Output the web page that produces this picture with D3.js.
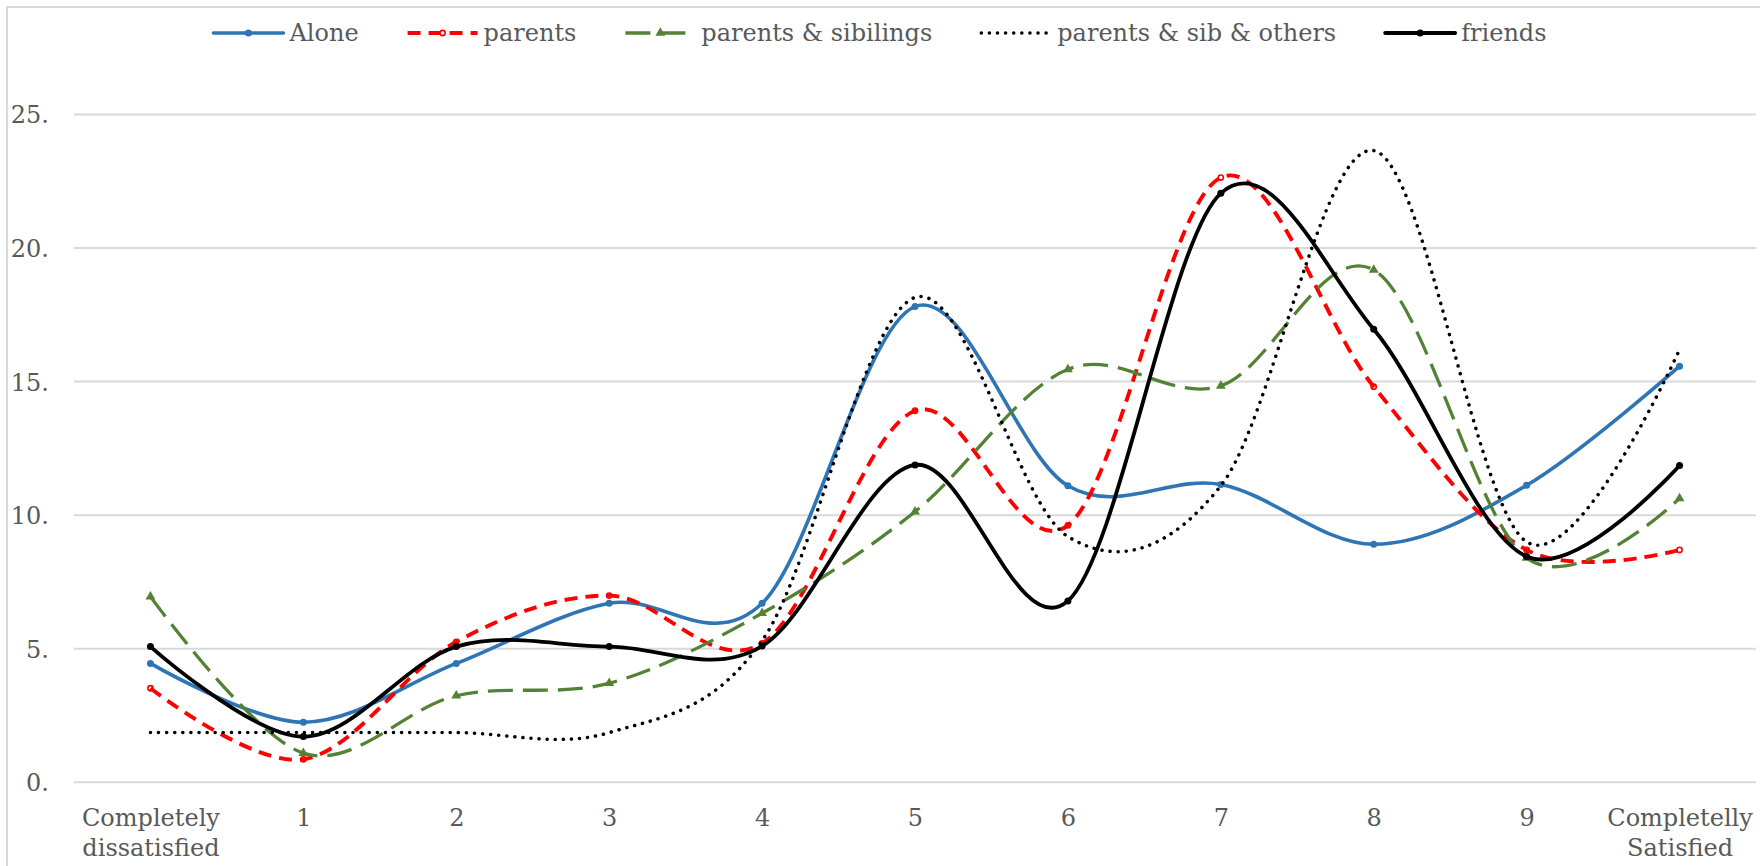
<!DOCTYPE html>
<html>
<head>
<meta charset="utf-8">
<script src="https://cdn.jsdelivr.net/npm/d3@7"></script>
<style>
  html, body { margin: 0; padding: 0; background: #fff; }
  svg { display: block; }
</style>
</head>
<body>
<svg id="chart" width="1760" height="866"></svg>
<script>
// ---- data ----
const categories = ["Completely dissatisfied", "1", "2", "3", "4", "5", "6", "7", "8", "9", "Completelly Satisfied"];
const categoryLines = [["Completely", "dissatisfied"], ["1"], ["2"], ["3"], ["4"], ["5"], ["6"], ["7"], ["8"], ["9"], ["Completelly", "Satisfied"]];
const alone         = [4.45, 2.25, 4.45, 6.70, 6.70, 17.81, 11.10, 11.15, 8.91, 11.12, 15.58];
const parents       = [3.52, 0.86, 5.26, 6.99, 5.20, 13.91, 9.62, 22.64, 14.81, 8.70, 8.70];
const parentsSib    = [6.95, 1.09, 3.24, 3.71, 6.33, 10.13, 15.46, 14.84, 19.18, 8.40, 10.63];
const parentsSibOth = [1.86, 1.86, 1.86, 1.86, 5.30, 18.15, 9.20, 11.10, 23.65, 9.00, 16.20];
const friends       = [5.08, 1.71, 5.08, 5.08, 5.10, 11.88, 6.79, 22.05, 16.96, 8.45, 11.86];
const seriesNames   = ["Alone", "parents", "parents & sibilings", "parents & sib & others", "friends"];
const yTicks        = [0, 5, 10, 15, 20, 25];
const yTickLabels   = ["0.", "5.", "10.", "15.", "20.", "25."];

// ---- styles ----
const FONT = "DejaVu Serif";
const TEXT = "#595959";
const GRID = "#d9d9d9";
const styles = [
  { color: "#2E75B6", width: 3.6, dash: null, cap: "round", marker: "circle" },
  { color: "#FF0000", width: 3.9, dash: "13,8", cap: "butt", marker: "open" },
  { color: "#548235", width: 3.3, dash: "25,10", cap: "butt", marker: "triangle" },
  { color: "#000000", width: 3.5, dash: "0.1,8", cap: "round", marker: null },
  { color: "#000000", width: 3.8, dash: null, cap: "round", marker: "circle" }
];
const seriesValues = [alone, parents, parentsSib, parentsSibOth, friends];
const series = seriesNames.map((name, i) => ({ name, values: seriesValues[i], style: styles[i] }));

const svg = d3.select("#chart");
const W = 1760, H = 866;
const plotLeft = 74, plotRight = 1756, plotTop = 114.5, plotBottom = 782.3;

// chart border
svg.append("rect").attr("x", 7).attr("y", 7).attr("width", 1800).attr("height", 900)
  .attr("fill", "none").attr("stroke", GRID).attr("stroke-width", 2);

const x = d3.scalePoint().domain(categories).range([plotLeft, plotRight]).padding(0.5);
const y = d3.scaleLinear().domain([0, 25]).range([plotBottom, plotTop]);

// gridlines
svg.append("g").selectAll("line").data(yTicks).join("line")
  .attr("x1", plotLeft).attr("x2", plotRight)
  .attr("y1", d => y(d)).attr("y2", d => y(d))
  .attr("stroke", GRID).attr("stroke-width", 2);

// y axis labels
const yAxis = d3.axisLeft(y).tickValues(yTicks).tickFormat((d, i) => yTickLabels[i]).tickSize(0).tickPadding(0);
const yg = svg.append("g").attr("transform", "translate(49,0)").call(yAxis);
yg.select(".domain").remove();
yg.selectAll("text").attr("font-family", FONT).attr("font-size", 24).attr("fill", TEXT).attr("dy", "0.35em");

// x axis labels
const xAxis = d3.axisBottom(x).tickSize(0).tickFormat(() => "");
const xg = svg.append("g").attr("transform", `translate(0,${plotBottom})`).call(xAxis);
xg.select(".domain").remove();
xg.selectAll(".tick").each(function(d, i) {
  const t = d3.select(this).select("text").text(null)
    .attr("font-family", FONT).attr("font-size", 24).attr("fill", TEXT)
    .attr("y", 44).attr("dy", 0);
  categoryLines[i].forEach((ln, j) => {
    t.append("tspan").attr("x", 0).attr("dy", j === 0 ? 0 : 30).text(ln);
  });
});

// lines
const line = d3.line().x((d, i) => x(categories[i])).y(d => y(d)).curve(d3.curveCardinal.tension(0));
const triangle = d3.symbol().type(d3.symbolTriangle).size(42);

function drawMarkers(g, s, pts) {
  const st = s.style;
  if (st.marker === "circle") {
    g.selectAll("circle").data(pts).join("circle")
      .attr("cx", d => d[0]).attr("cy", d => d[1]).attr("r", 3.5).attr("fill", st.color);
  } else if (st.marker === "open") {
    g.selectAll("circle").data(pts).join("circle")
      .attr("cx", d => d[0]).attr("cy", d => d[1]).attr("r", 2.6)
      .attr("fill", "#fff").attr("stroke", st.color).attr("stroke-width", 1.6);
  } else if (st.marker === "triangle") {
    g.selectAll("path").data(pts).join("path")
      .attr("transform", d => `translate(${d[0]},${d[1]})`).attr("d", triangle).attr("fill", st.color);
  }
}

series.forEach(s => {
  const g = svg.append("g");
  const pts = s.values.map((v, i) => [x(categories[i]), y(v)]);
  const mg = g.append("g");
  g.append("path").datum(s.values).attr("d", line)
    .attr("fill", "none").attr("stroke", s.style.color).attr("stroke-width", s.style.width)
    .attr("stroke-dasharray", s.style.dash).attr("stroke-linecap", s.style.cap)
    .attr("stroke-linejoin", "round");
  if (s.style.marker === "open") drawMarkers(mg, s, pts);
  else drawMarkers(g.append("g"), s, pts);
});

// legend
const legend = svg.append("g");
const legendY = 33, lineLen = 70, textGap = 6, itemGap = 49;
const items = series.map(s => {
  const gi = legend.append("g");
  gi.append("line").attr("x1", 0).attr("x2", lineLen).attr("y1", legendY).attr("y2", legendY)
    .attr("stroke", s.style.color).attr("stroke-width", s.style.width)
    .attr("stroke-dasharray", s.style.dash).attr("stroke-linecap", s.style.cap);
  drawMarkers(gi.append("g"), s, [[lineLen / 2, legendY]]);
  const t = gi.append("text").attr("x", lineLen + textGap).attr("y", legendY).attr("dy", "0.35em")
    .attr("font-family", FONT).attr("font-size", 24).attr("fill", TEXT).text(s.name);
  return { g: gi, w: lineLen + textGap + t.node().getComputedTextLength() };
});
const totalW = d3.sum(items, d => d.w) + itemGap * (items.length - 1);
let cx = W / 2 - totalW / 2;
items.forEach(it => { it.g.attr("transform", `translate(${cx},0)`); cx += it.w + itemGap; });
</script>
</body>
</html>
